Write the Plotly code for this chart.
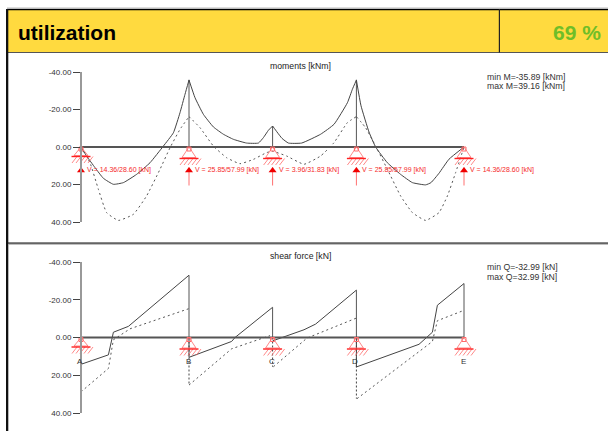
import plotly.graph_objects as go

W, H = 608, 431
PX_M = 20.0
AX_X = 81
nodes_x = [0.0, 5.4, 9.58, 13.77, 19.15]
node_names = ["A", "B", "C", "D", "E"]
tick_vals = [-40, -20, 0, 20, 40]
tick_text = ["-40.00", "-20.00", "0.00", "20.00", "40.00"]
reactions = ["V = 14.36/28.60 [kN]", "V = 25.85/57.99 [kN]", "V = 3.96/31.83 [kN]",
             "V = 25.85/57.99 [kN]", "V = 14.36/28.60 [kN]"]

m_solid_x = [0, .28, .70, 1.12, 1.62, 2.12, 2.78, 3.45, 4.12, 4.62, 4.95, 5.2, 5.4, None,
             5.4, 5.70, 6.12, 6.62, 7.12, 7.62, 8.28, 8.87, 9.12, 9.37, 9.58, None,
             9.58, 9.80, 10.05, 10.37, 11.03, 11.98, 12.65, 13.32, 13.57, 13.77, None,
             13.77, 14.0, 14.4, 14.73, 15.32, 15.98, 16.57, 17.23, 17.5, 17.9, 18.4, 19.15]
m_solid_y = [0, 4.8, 11.0, 16.7, 19.9, 19.0, 14.6, 8.4, -0.5, -7.6, -18.3, -28.1, -35.7, None,
             -35.7, -26.3, -17.4, -10.7, -6.8, -4.1, -2.1, -2.1, -5.0, -8.9, -11.2, None,
             -11.2, -8.0, -4.6, -2.1, -2.1, -6.8, -12.1, -23.6, -30.8, -35.7, None,
             -35.7, -22, -8, 0, 8.4, 14.6, 19.0, 20.2, 19.0, 14.0, 6.5, 0]
m_dash_x = [0, .45, .87, 1.28, 1.87, 2.62, 3.28, 3.95, 4.45, 4.95, 5.4, None,
            5.4, 5.95, 6.62, 7.28, 7.95, 8.62, 9.28, 9.58, 10.28, 11.15, 11.98, 12.65, 13.32, 13.77, None,
            13.77, 14.23, 14.73, 15.32, 15.98, 16.57, 17.23, 17.9, 18.32, 18.73, 19.15]
m_dash_y = [0, 8.4, 22.6, 35, 39.16, 35.9, 26.1, 11.9, 0.4, -9.4, -16.2, None,
            -16.2, -10.3, -0.5, 5.7, 8.9, 6.6, 3.0, 2.3, 4.8, 9.2, 4.8, -2.3, -13, -16.2, None,
            -16.2, -10.3, -0.5, 11.9, 26.1, 35, 39.16, 35, 26.1, 13.7, 0]
m_peaks = [0, -35.89, -11.2, -35.89, 0]

q_solid_x = [0, 1.37, 1.62, 2.37, 5.4, None, 5.4, 7.53, 7.7, 9.58, None,
             9.58, 11.15, 11.73, 13.77, None, 13.77, 16.9, 17.57, 17.82, 19.15]
q_solid_y = [14.2, 9.2, -2.8, -5.9, -33.0, None, 10.5, 2.1, 0, -16.0, None,
             1.8, -4.1, -7.1, -25.1, None, 15.6, 3.6, -2.8, -17.1, -28.6]
q_dash_x = [0, 1.37, 1.62, 2.45, 5.4, None, 5.4, 7.53, 9.45, None,
            9.62, 11.15, 11.3, 13.77, None, 13.8, 17.57, 17.82, 19.15]
q_dash_y = [28.8, 16.4, 1.2, -4.6, -15.3, None, 25.2, 6.0, -1.0, None,
            15.5, 1.2, 0.3, -10.3, None, 32.4, 2.1, -8.9, -14.4]
q_up = [14.2, -33.0, -16.0, -25.1, -28.6]
q_down = [None, 10.5, None, 15.6, None]
q_dash_end = [None, 25.2, 15.5, 32.4, None]

YEL = "#FFDA3F"
RED = "#FF6A6A"
DARK = "#3a3a3a"
top_px = (72, 222)
bot_px = (262, 413)
PX_V_T = (top_px[1] - top_px[0]) / 80
PX_V_B = (bot_px[1] - bot_px[0]) / 80

fig = go.Figure()


def line(x, y, ax, color=DARK, width=1, dash=None, shape="linear"):
    fig.add_trace(go.Scatter(x=x, y=y, mode="lines", yaxis=ax, hoverinfo="skip",
                             line=dict(color=color, width=width, dash=dash, shape=shape, smoothing=0.4)))


def support(nx, ax, k, base_px):
    xs, ys = [], []
    dx = lambda p: nx + p / PX_M
    dy = lambda p: p / k
    xs += [dx(0), dx(-7), dx(7), dx(0), None]
    ys += [dy(0), dy(base_px - 1), dy(base_px - 1), dy(0), None]
    for p in range(-9, 9, 4):
        xs += [dx(p + 5), dx(p), None]
        ys += [dy(base_px), dy(base_px + 6.5), None]
    line(xs, ys, ax, RED, 0.8)
    line([dx(-9.5), dx(9.5)], [dy(base_px), dy(base_px)], ax, "#FF2020", 1.4)
    fig.add_trace(go.Scatter(x=[nx], y=[dy(2)], mode="markers", yaxis=ax, hoverinfo="skip",
                             marker=dict(symbol="square-open", size=4, color=RED, line=dict(width=1, color=RED))))


# stems
for nx, p in zip(nodes_x, m_peaks):
    line([nx, nx], [0, p], "y", "#555555", 1)
for nx, u in zip(nodes_x, q_up):
    line([nx, nx], [0, u], "y2", "#555555", 1)
for nx, d in zip(nodes_x, q_down):
    if d is not None:
        line([nx, nx], [0, d], "y2", "#444444", 1)
for nx, d in zip(nodes_x, q_dash_end):
    if d is not None:
        line([nx, nx], [0, d], "y2", "#444444", 1, "2px,2px")

# curves
line(m_solid_x, m_solid_y, "y", "#444444", 1, None, "spline")
line(m_dash_x, m_dash_y, "y", "#555555", 1, "2px,3px", "spline")
line(q_solid_x, q_solid_y, "y2", "#444444", 1)
line(q_dash_x, q_dash_y, "y2", "#555555", 1, "2px,3px")

# beam
beam = [nodes_x[0], nodes_x[-1]]
line(beam, [0, 0], "y", "#555555", 2)
line(beam, [0, 0], "y2", "#555555", 2)

# supports
base_top = [9.5, 11.5, 11.5, 11.5, 11.5]
base_bot = [9.5, 11.5, 11.5, 11.5, 11.5]
for nx, bt, bb in zip(nodes_x, base_top, base_bot):
    support(nx, "y", PX_V_T, bt)
    support(nx, "y2", PX_V_B, bb)

# reaction arrows
for nx in nodes_x:
    line([nx, nx], [20.5 / PX_V_T, 38.5 / PX_V_T], "y", "#FF7070", 1)
fig.add_trace(go.Scatter(x=nodes_x, y=[23.5 / PX_V_T] * 5, mode="markers", yaxis="y", hoverinfo="skip",
                         marker=dict(symbol="triangle-up", size=7, color="#F00000")))


def xf(p):
    return p / W


def yf(p):
    return 1 - p / H


def text(s, px, py, size=8, color="#333333", anchor="left", bold=False):
    fig.add_annotation(x=xf(px), y=yf(py), xref="paper", yref="paper", text=f"<b>{s}</b>" if bold else s,
                       showarrow=False, xanchor=anchor, yanchor="middle", align="left",
                       font=dict(size=size, color=color, family="Liberation Sans"),
                       borderpad=0, borderwidth=0)


for nx, r in zip(nodes_x, reactions):
    text(r, AX_X + nx * PX_M + 6, 170, 7, "#F52B2B")
for nx, n in zip(nodes_x, node_names):
    text(n, AX_X + nx * PX_M - 1, 361, 8, "#333333", "center")

text("utilization", 18, 32, 21, "#000000", bold=True)
text("69 %", 601, 32, 21, "#6FBE28", "right", True)
text("moments [kNm]", 300.5, 66, 8.7, "#222222", "center")
text("shear force [kN]", 300.5, 256, 8.7, "#222222", "center")
text("min M=-35.89 [kNm]", 487, 76.5, 8.7)
text("max M=39.16 [kNm]", 487, 86, 8.7)
text("min Q=-32.99 [kN]", 487, 267, 8.7)
text("max Q=32.99 [kN]", 487, 276.5, 8.7)


def rect(x0, y0, x1, y1, fill):
    return dict(type="rect", xref="paper", yref="paper", x0=xf(x0), x1=xf(x1), y0=yf(y0), y1=yf(y1),
                fillcolor=fill, line=dict(width=0), layer="below")


shapes = [
    rect(7, 8, 608, 52.5, YEL),
    rect(7, 7.5, 608, 9, "#BBBBBB"),
    rect(7, 9, 608, 10.3, "#000000"),
    rect(7, 52, 608, 53, "#555555"),
    rect(6, 9, 8.3, 431, "#111111"),
    rect(498.8, 9, 500, 52.5, "#222222"),
    rect(8, 242.5, 608, 243.8, "#111111"),
    rect(8, 243.8, 608, 244.8, "#AAAAAA"),
]


def yaxis(px):
    return dict(domain=[yf(px[1]), yf(px[0])], range=[40, -40], anchor="free", position=AX_X / W,
                tickvals=tick_vals, ticktext=tick_text, ticks="outside", ticklen=7, tickwidth=1,
                tickcolor="#444444", tickfont=dict(size=8, color="#333333", family="Liberation Sans"),
                showline=True, linecolor="#999999", linewidth=2, showgrid=False, zeroline=False,
                automargin=False)


fig.update_layout(
    width=W, height=H, margin=dict(l=0, r=0, t=0, b=0), autosize=False,
    paper_bgcolor="white", plot_bgcolor="rgba(0,0,0,0)", showlegend=False,
    xaxis=dict(domain=[0, 1], range=[-AX_X / PX_M, (W - AX_X) / PX_M], visible=False, automargin=False),
    yaxis=yaxis(top_px), yaxis2=yaxis(bot_px), shapes=shapes,
)
fig.write_html("out.html", config=dict(displayModeBar=False),
               post_script="document.body.style.margin='0';document.documentElement.style.overflow='hidden';")
